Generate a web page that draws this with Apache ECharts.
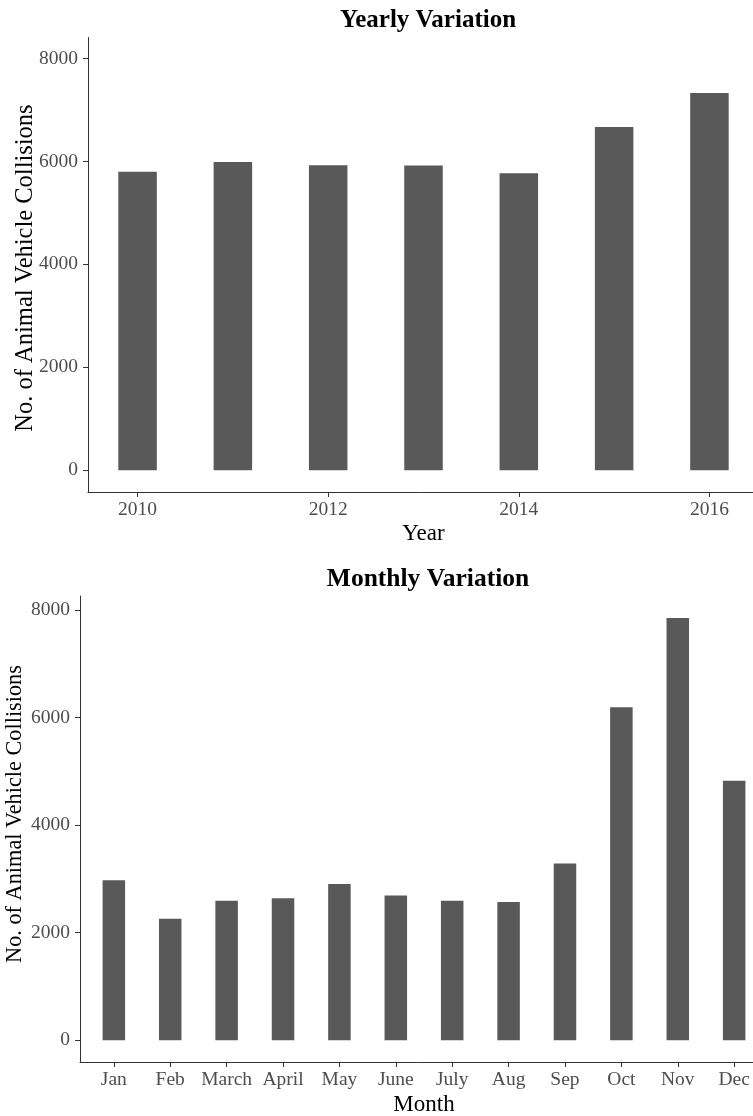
<!DOCTYPE html>
<html>
<head>
<meta charset="utf-8">
<script src="https://cdn.jsdelivr.net/npm/echarts@6/dist/echarts.min.js"></script>
<style>
  html, body { margin: 0; padding: 0; background: #fff; }
  #chart { width: 753px; height: 1116px; }
</style>
</head>
<body>
<div id="chart"></div>
<script>
// yearly counts
const years = [2010, 2011, 2012, 2013, 2014, 2015, 2016];
const yearlyCounts = [5800, 5990, 5925, 5920, 5770, 6670, 7330];
const yearTicks = [2010, 2012, 2014, 2016];

// monthly counts
const months = ['Jan', 'Feb', 'March', 'April', 'May', 'June', 'July', 'Aug', 'Sep', 'Oct', 'Nov', 'Dec'];
const monthlyCounts = [2975, 2260, 2595, 2640, 2905, 2690, 2595, 2570, 3285, 6190, 7850, 4825];

const countTicks = [0, 2000, 4000, 6000, 8000];

const FONT = 'Liberation Serif';
const barColor = '#595959';
const axisColor = '#333';
const labelColor = '#4d4d4d';

const yearlyData = years.map((y, i) => [y, yearlyCounts[i]]);
const monthIdx = months.map((m, i) => i + 1);
const monthlyData = monthIdx.map((m, i) => [m, monthlyCounts[i]]);

const axisLine = { show: true, onZero: false, lineStyle: { color: axisColor, width: 1 } };
const tickStyle = { show: true, length: 5, lineStyle: { color: axisColor } };
const labelStyle = { color: labelColor, fontFamily: FONT, fontSize: 19.5 };
const plain = (v) => String(v);

const chart = echarts.init(document.getElementById('chart'));

const option = {
  backgroundColor: '#fff',
  animation: false,
  title: [
    {
      text: 'Yearly Variation',
      left: 423, top: 3, textAlign: 'center',
      textStyle: { fontFamily: FONT, fontWeight: 'bold', fontSize: 25, color: '#000' }
    },
    {
      text: 'Monthly Variation',
      left: 423, top: 561, textAlign: 'center',
      textStyle: { fontFamily: FONT, fontWeight: 'bold', fontSize: 25.5, color: '#000' }
    }
  ],
  grid: [
    { left: 88, top: 37.5, width: 671, height: 454.5, outerBoundsMode: 'none', containLabel: false },
    { left: 80, top: 596, width: 688, height: 466, outerBoundsMode: 'none', containLabel: false }
  ],
  xAxis: [
    {
      type: 'value', gridIndex: 0,
      min: 2009.48, max: 2016.52,
      splitLine: { show: false },
      axisLine: axisLine,
      axisTick: Object.assign({ customValues: yearTicks }, tickStyle),
      axisLabel: Object.assign({ customValues: yearTicks, margin: 8, formatter: plain }, labelStyle),
      name: 'Year', nameLocation: 'middle', nameGap: 30,
      nameTextStyle: { fontFamily: FONT, fontSize: 23, color: '#000' }
    },
    {
      type: 'value', gridIndex: 1,
      min: 0.4, max: 12.6,
      splitLine: { show: false },
      axisLine: axisLine,
      axisTick: Object.assign({ customValues: monthIdx }, tickStyle),
      axisLabel: Object.assign({
        customValues: monthIdx, margin: 8,
        formatter: (v) => months[Math.round(v) - 1]
      }, labelStyle),
      name: 'Month', nameLocation: 'middle', nameGap: 31,
      nameTextStyle: { fontFamily: FONT, fontSize: 23, color: '#000' }
    }
  ],
  yAxis: [
    {
      type: 'value', gridIndex: 0,
      min: -425, max: 8410,
      splitLine: { show: false },
      axisLine: axisLine,
      axisTick: Object.assign({ customValues: countTicks }, tickStyle),
      axisLabel: Object.assign({ customValues: countTicks, margin: 10, formatter: plain }, labelStyle)
    },
    {
      type: 'value', gridIndex: 1,
      min: -403, max: 8258,
      splitLine: { show: false },
      axisLine: axisLine,
      axisTick: Object.assign({ customValues: countTicks }, tickStyle),
      axisLabel: Object.assign({ customValues: countTicks, margin: 10, formatter: plain }, labelStyle)
    }
  ],
  graphic: [
    {
      type: 'text', x: 26, y: 268, rotation: Math.PI / 2,
      style: {
        text: 'No. of Animal Vehicle Collisions', fill: '#000',
        font: '24.5px "Liberation Serif"', textAlign: 'center', textVerticalAlign: 'middle'
      }
    },
    {
      type: 'text', x: 15.5, y: 814, rotation: Math.PI / 2,
      style: {
        text: 'No. of Animal Vehicle Collisions', fill: '#000',
        font: '22.3px "Liberation Serif"', textAlign: 'center', textVerticalAlign: 'middle'
      }
    }
  ],
  series: [
    {
      type: 'bar', xAxisIndex: 0, yAxisIndex: 0,
      data: yearlyData, barWidth: 38.5,
      itemStyle: { color: barColor }
    },
    {
      type: 'bar', xAxisIndex: 1, yAxisIndex: 1,
      data: monthlyData, barWidth: 22.5,
      itemStyle: { color: barColor }
    }
  ]
};

chart.setOption(option);
</script>
</body>
</html>
